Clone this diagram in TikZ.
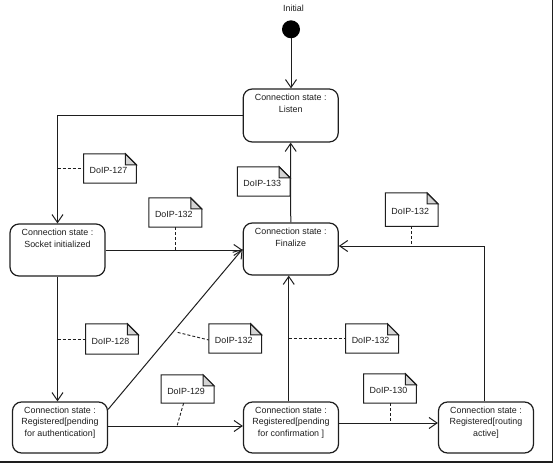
\documentclass[tikz,border=0pt]{standalone}
\usepackage{fontspec}
\setmainfont{Liberation Sans}
\usetikzlibrary{arrows.meta,calc}
\definecolor{ink}{HTML}{1E1E1E}
\definecolor{foldgray}{HTML}{D4D4D4}
\tikzset{
  statebox/.style={draw=ink, line width=1.2pt, rounded corners=9pt, minimum width=95pt, minimum height=52pt, inner sep=0pt},
  statetext/.style={anchor=north, inner sep=0pt, align=center, font=\fontsize{8.9}{11.6}\selectfont, text=ink},
  notebox/.style={minimum width=52.5pt, minimum height=29pt, inner sep=0pt, font=\fontsize{8.9}{10}\selectfont, text=ink},
  conn/.style={line width=1pt, draw=ink},
  arr/.style={conn, -{Straight Barb[length=8pt,width=11pt,line width=1pt]}},
  notelink/.style={line width=0.9pt, draw=ink, dash pattern=on 3pt off 2pt},
  noteline/.style={line width=1pt, draw=ink},
}
\newcommand{\dognote}[1]{%
  \filldraw[noteline, fill=foldgray] ($(#1.north east)+(-11pt,0pt)$) -- ($(#1.north east)+(-11pt,-11pt)$) -- ($(#1.north east)+(0pt,-11pt)$) -- cycle;
  \draw[noteline] (#1.north west) -- ($(#1.north east)+(-11pt,0pt)$) -- ($(#1.north east)+(0pt,-11pt)$) -- (#1.south east) -- (#1.south west) -- cycle;
}
\newcommand{\notelabel}[1]{\raisebox{-2pt}[\height][\depth]{#1}\hspace*{3pt}}
\begin{document}
\begin{tikzpicture}[x=1pt,y=-1pt]
\useasboundingbox (0,0) rectangle (554,465);
% frame lines at the bottom and right
\draw[line width=1.5pt, draw=ink] (0,462) -- (552.5,462) -- (552.5,0);

% initial
\node[font=\fontsize{8.9}{10}\selectfont, text=ink, inner sep=0pt] (initlabel) at (293.5,8.5) {Initial};
\node[circle, fill=black, minimum size=18pt, inner sep=0pt] (init) at (291,29.3) {};

% states
\node[statebox, minimum height=53pt] (listen) at (290.7,115.5) {};
\node[statetext] (listen-t) at ($(listen.north)+(0pt,-5.5pt)$) {Connection state :\\Listen};

\node[statebox] (socket) at (57.5,250) {};
\node[statetext] (socket-t) at ($(socket.north)+(0pt,-5.5pt)$) {Connection state :\\Socket initialized};

\node[statebox] (finalize) at (290.75,249) {};
\node[statetext] (finalize-t) at ($(finalize.north)+(0pt,-5.5pt)$) {Connection state :\\Finalize};

\node[statebox, minimum height=51pt] (regauth) at (60,427.5) {};
\node[statetext] (regauth-t) at ($(regauth.north)+(0pt,-5pt)$) {Connection state :\\Registered[pending\\for authentication]};

\node[statebox, minimum height=51pt] (regconf) at (291,427.5) {};
\node[statetext] (regconf-t) at ($(regconf.north)+(0pt,-5pt)$) {Connection state :\\Registered[pending\\for confirmation ]};

\node[statebox, minimum height=51pt] (routing) at (486,427.5) {};
\node[statetext] (routing-t) at ($(routing.north)+(0pt,-5pt)$) {Connection state :\\Registered[routing\\active]};

% notes
\node[notebox] (n127) at (110,168.5) {\notelabel{DoIP-127}};
\node[notebox] (n133) at (263.7,181.5) {\notelabel{DoIP-133}};
\node[notebox] (n132a) at (175.3,212.5) {\notelabel{DoIP-132}};
\node[notebox, minimum height=33pt] (n132b) at (411.7,209.7) {\notelabel{DoIP-132}};
\node[notebox, minimum height=30pt] (n128) at (112,339) {\notelabel{DoIP-128}};
\node[notebox] (n132c) at (235.2,338.5) {\notelabel{DoIP-132}};
\node[notebox] (n132d) at (372.1,338.5) {\notelabel{DoIP-132}};
\node[notebox, minimum height=28pt] (n129) at (187.6,389) {\notelabel{DoIP-129}};
\node[notebox] (n130) at (390,388.5) {\notelabel{DoIP-130}};
\dognote{n127}
\dognote{n133}
\dognote{n132a}
\dognote{n132b}
\dognote{n128}
\dognote{n132c}
\dognote{n132d}
\dognote{n129}
\dognote{n130}

% transitions
\draw[arr] (init.south) -- (init.south |- listen.north);
\draw[arr] (listen.west) -| (socket.north);
\draw[notelink] (n127.west -| socket.north) -- (n127.west);

\draw[arr] (finalize.north) -- (listen.south);

\draw[arr] (socket.east) -- (socket.east -| finalize.west);
\draw[notelink] (n132a.south) -- (n132a.south |- socket.east);

\coordinate (finin) at ($(finalize.east)+(0pt,3pt)$);
\draw[arr] ($(routing.north)+(-2pt,0pt)$) |- (finin);
\draw[notelink] (n132b.south) -- (n132b.south |- finin);

\draw[arr] (socket.south) -- (socket.south |- regauth.north);
\draw[notelink] (n128.west -| socket.south) -- (n128.west);

\draw[arr] ($(regauth.north east)+(0pt,-8pt)$) -- coordinate[pos=0.48] (diag132) (finalize.west);
\draw[notelink] ($(diag132)+(5pt,0pt)$) -- ($(n132c.west)+(0pt,-1.5pt)$);

\coordinate (cf) at ($(finalize.south)+(-2pt,0pt)$);
\draw[arr] (cf |- regconf.north) -- (cf);
\draw[notelink] (n132d.west -| cf) -- (n132d.west);

\coordinate (raout) at ($(regauth.east)+(0pt,1.5pt)$);
\draw[arr] (raout) -- (raout -| regconf.west);
\coordinate (c129) at (177,426);
\draw[notelink] ($(n129.south)+(-4pt,0pt)$) -- (c129);

\coordinate (rcout) at ($(regconf.east)+(0pt,4.5pt)$);
\draw[arr] (rcout) -- (rcout -| routing.west);
\draw[notelink] (n130.south) -- (n130.south |- rcout);
\end{tikzpicture}
\end{document}
